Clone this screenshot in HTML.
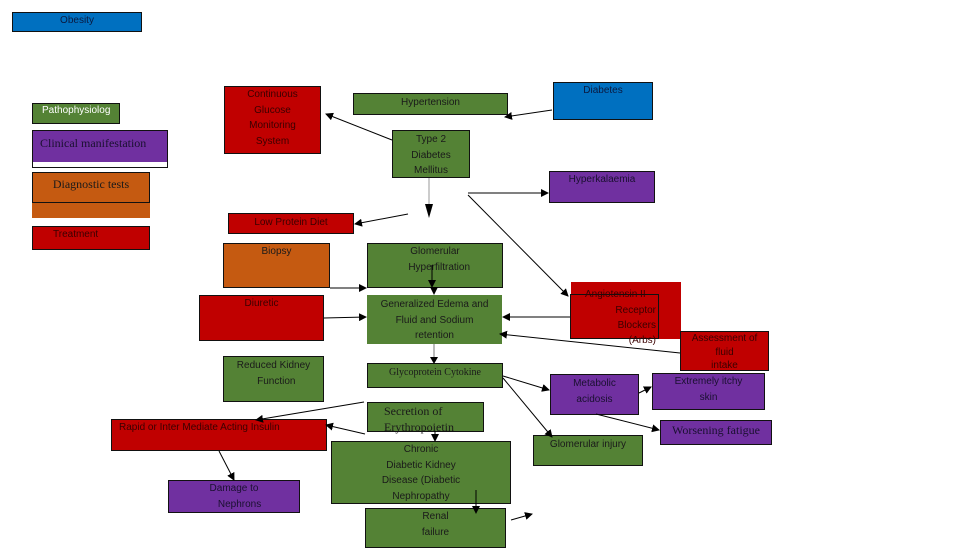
<!DOCTYPE html>
<html><head><meta charset="utf-8"><style>
body{margin:0;width:961px;height:540px;background:#fff;position:relative;overflow:hidden;font-family:"Liberation Sans",sans-serif;}
.b{position:absolute;box-sizing:border-box;border:1px solid #111;font-size:10px;line-height:15.5px;text-align:center;color:#1a1a1a;overflow:visible;}
.g{background:#548235}.r{background:#C00000;color:#3a0000}.p{background:#7030A0;color:#1a1030}.o{background:#C55A11}.bl{background:#0070C0;color:#0a1a40}
.s{font-family:"Liberation Serif",serif}
svg{position:absolute;left:0;top:0}
</style></head><body>
<div class="b bl" style="left:12px;top:12px;width:130px;height:20px;line-height:16px">Obesity</div>
<div class="b g" style="left:32px;top:103px;width:88px;height:21px;color:#fff;text-align:left;padding-left:9px;line-height:14px">Pathophysiolog</div>
<div class="b" style="left:32px;top:130px;width:136px;height:38px;background:#fff"></div>
<div class="b p s" style="left:32px;top:130px;width:136px;height:32px;border-bottom:none;font-size:12px;text-align:left;padding-left:7px;line-height:24px">Clinical manifestation</div>
<div class="b o" style="left:32px;top:203px;width:118px;height:15px;border:none"></div>
<div class="b o s" style="left:32px;top:172px;width:118px;height:31px;font-size:12px;line-height:22px">Diagnostic tests</div>
<div class="b r" style="left:32px;top:226px;width:118px;height:24px;text-align:left;padding-left:20px;line-height:16px">Treatment</div>
<div class="b r" style="left:224px;top:86px;width:97px;height:68px;padding-top:0">Continuous<br>Glucose<br>Monitoring<br>System</div>
<div class="b g" style="left:353px;top:93px;width:155px;height:22px;line-height:17px">Hypertension</div>
<div class="b g" style="left:392px;top:130px;width:78px;height:48px;padding-top:1px">Type 2<br>Diabetes<br>Mellitus</div>
<div class="b bl" style="left:553px;top:82px;width:100px;height:38px">Diabetes</div>
<div class="b p" style="left:549px;top:171px;width:106px;height:32px">Hyperkalaemia</div>
<div class="b r" style="left:228px;top:213px;width:126px;height:21px;line-height:18px">Low Protein Diet</div>
<div class="b o" style="left:223px;top:243px;width:107px;height:45px">Biopsy</div>
<div class="b g" style="left:367px;top:243px;width:136px;height:45px;padding-top:0">Glomerular<br>&nbsp;&nbsp;&nbsp;Hyperfiltration</div>
<div class="b r" style="left:199px;top:295px;width:125px;height:46px">Diuretic</div>
<div class="b g" style="left:367px;top:295px;width:135px;height:49px;border:none;padding-top:2px">Generalized Edema and<br>Fluid and Sodium<br>retention</div>
<div class="b r" style="left:571px;top:282px;width:110px;height:57px;border:none"></div>
<div class="b r" style="left:570px;top:294px;width:89px;height:45px;text-align:right;padding-right:2px;line-height:15px;padding-top:0"><span style="position:absolute;left:14px;top:-8px;white-space:nowrap">Angiotensin II</span><div style="margin-top:8px">Receptor<br>Blockers<br>(Arbs)</div></div>
<div class="b r" style="left:680px;top:331px;width:89px;height:40px;line-height:13.5px">Assessment of<br>fluid<br>intake</div>
<div class="b g" style="left:223px;top:356px;width:101px;height:46px;padding-top:1px">Reduced Kidney<br>&nbsp;&nbsp;Function</div>
<div class="b g s" style="left:367px;top:363px;width:136px;height:25px;line-height:17px">Glycoprotein Cytokine</div>
<div class="b p" style="left:550px;top:374px;width:89px;height:41px;padding-top:1px">Metabolic<br>acidosis</div>
<div class="b p" style="left:652px;top:373px;width:113px;height:37px;line-height:16px">Extremely itchy<br>skin</div>
<div class="b g s" style="left:367px;top:402px;width:117px;height:30px;font-size:12px;line-height:16px;text-align:left;padding-left:16px">Secretion of<br>Erythropoietin</div>
<div class="b r" style="left:111px;top:419px;width:216px;height:32px;text-align:left;padding-left:7px;line-height:16px">Rapid or Inter Mediate Acting Insulin</div>
<div class="b p s" style="left:660px;top:420px;width:112px;height:25px;font-size:12px;line-height:18px">Worsening fatigue</div>
<div class="b g" style="left:533px;top:435px;width:110px;height:31px;line-height:18px">Glomerular injury</div>
<div class="b g" style="left:331px;top:441px;width:180px;height:63px">Chronic<br>Diabetic Kidney<br>Disease (Diabetic<br>Nephropathy</div>
<div class="b p" style="left:168px;top:480px;width:132px;height:33px">Damage to<br>&nbsp;&nbsp;&nbsp;&nbsp;Nephrons</div>
<div class="b g" style="left:365px;top:508px;width:141px;height:40px">Renal<br>failure</div>
<svg width="961" height="540"><defs><marker id="a" markerWidth="8" markerHeight="8" refX="7" refY="4" orient="auto" markerUnits="userSpaceOnUse"><path d="M0,0L8,4L0,8z" fill="#000"/></marker></defs>
<g stroke="#000" stroke-width="1" fill="none" marker-end="url(#a)">
<line x1="392" y1="140" x2="326" y2="114"/>
<line x1="552" y1="110" x2="505" y2="117"/>
<line x1="468" y1="193" x2="548" y2="193"/>
<line x1="468" y1="195" x2="568" y2="296"/>
<line x1="408" y1="214" x2="355" y2="224"/>
<line x1="330" y1="288" x2="366" y2="288"/>
<line x1="432" y1="265" x2="432" y2="287"/>
<line x1="434" y1="288" x2="434" y2="294"/>
<line x1="324" y1="318" x2="366" y2="317"/>
<line x1="570" y1="317" x2="503" y2="317"/>
<line x1="680" y1="353" x2="500" y2="334"/>
<line x1="503" y1="376" x2="549" y2="390"/>
<line x1="503" y1="378" x2="552" y2="437"/>
<line x1="639" y1="393" x2="651" y2="387"/>
<line x1="596" y1="414" x2="659" y2="430"/>
<line x1="364" y1="402" x2="256" y2="420"/>
<line x1="365" y1="434" x2="326" y2="425"/>
<line x1="219" y1="451" x2="234" y2="480"/>
<line x1="435" y1="431" x2="435" y2="441"/>
<line x1="476" y1="490" x2="476" y2="513"/>
<line x1="511" y1="520" x2="532" y2="514"/>
</g>
<line x1="434" y1="344" x2="434" y2="358" stroke="#bbb" stroke-width="2"/>
<path d="M430,357L438,357L434,364z" fill="#000"/>
<line x1="429" y1="178" x2="429" y2="205" stroke="#ccc" stroke-width="2"/>
<path d="M425,204L433,204L429,218z" fill="#000"/>
</svg>
</body></html>
